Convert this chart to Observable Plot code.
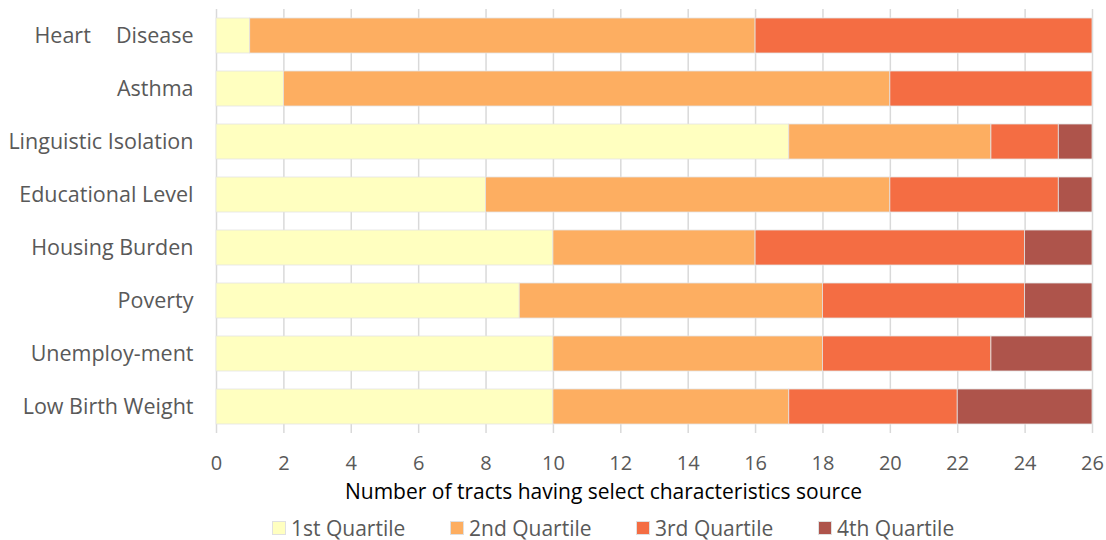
<!DOCTYPE html>
<html>
<head>
<meta charset="utf-8">
<script src="https://cdn.jsdelivr.net/npm/d3@7"></script>
<script src="https://cdn.jsdelivr.net/npm/@observablehq/plot@0.6"></script>
<style>
  html, body { margin: 0; padding: 0; background: #fff; }
  body { width: 1106px; height: 540px; overflow: hidden; font-family: "Open Sans", Lato, sans-serif; }
  #legend { position: relative; height: 36px; width: 1106px; }
  .item { position: absolute; top: 0; height: 36px; display: flex; align-items: center; font-size: 21px; color: #595959; }
  .sw { width: 14px; height: 14px; margin-right: 5px; box-sizing: border-box; border: 1px solid #e0e0e0; }
</style>
</head>
<body>
<div id="chart"></div>
<div id="legend"></div>
<script>
const categories = ["Heart Disease", "Asthma", "Linguistic Isolation", "Educational Level", "Housing Burden", "Poverty", "Unemploy-ment", "Low Birth Weight"];
const quartiles = ["1st Quartile", "2nd Quartile", "3rd Quartile", "4th Quartile"];
const q1 = [1, 2, 17, 8, 10, 9, 10, 10];
const q2 = [15, 18, 6, 12, 6, 9, 8, 7];
const q3 = [10, 6, 2, 5, 8, 6, 5, 5];
const q4 = [0, 0, 1, 1, 2, 2, 3, 4];
const xTicks = [0, 2, 4, 6, 8, 10, 12, 14, 16, 18, 20, 22, 24, 26];
const colors = ["#ffffc0", "#fdae61", "#f46d43", "#ae544b"];
const xLabel = "Number of tracts having select characteristics source";

const series = [q1, q2, q3, q4];
const table = [];
quartiles.forEach((q, qi) => {
  categories.forEach((c, ci) => {
    table.push({category: c, quartile: q, value: series[qi][ci]});
  });
});

const chart = Plot.plot({
  width: 1106,
  height: 510,
  marginLeft: 216,
  marginRight: 14,
  marginTop: 9,
  marginBottom: 77,
  style: {fontFamily: "'Open Sans', Lato, sans-serif", fontSize: "20px", color: "#595959", background: "#fff"},
  x: {domain: [0, 26], ticks: xTicks},
  y: {domain: categories, paddingInner: 0.34, paddingOuter: 0.17},
  color: {domain: quartiles, range: colors},
  marks: [
    Plot.gridX(xTicks, {stroke: "#d9d9d9", strokeOpacity: 1, strokeWidth: 1.5}),
    Plot.barX(table, {y: "category", x: "value", fill: "quartile", stroke: "#e4e4e4", strokeWidth: 0.8}),
    Plot.axisX(xTicks, {tickSize: 0, tickPadding: 22, label: null, fill: "#595959", fontSize: 20}),
    Plot.axisY({tickSize: 0, tickPadding: 23, label: null, fill: "#595959", fontSize: 21.5,
      tickFormat: d => d === "Heart Disease" ? "Heart\u2003\u2009Disease" : d}),
    Plot.text([xLabel], {text: d => d, frameAnchor: "bottom", dx: -51, dy: 59, lineAnchor: "middle", fill: "#000", fontSize: 21})
  ]
});
document.getElementById("chart").appendChild(chart);

const legend = document.getElementById("legend");
const lefts = [272, 450, 636, 818];
quartiles.forEach((q, i) => {
  const it = document.createElement("div");
  it.className = "item";
  it.style.left = lefts[i] + "px";
  const sw = document.createElement("div");
  sw.className = "sw";
  sw.style.background = colors[i];
  it.appendChild(sw);
  const t = document.createElement("span");
  t.textContent = q;
  it.appendChild(t);
  legend.appendChild(it);
});
</script>
</body>
</html>
